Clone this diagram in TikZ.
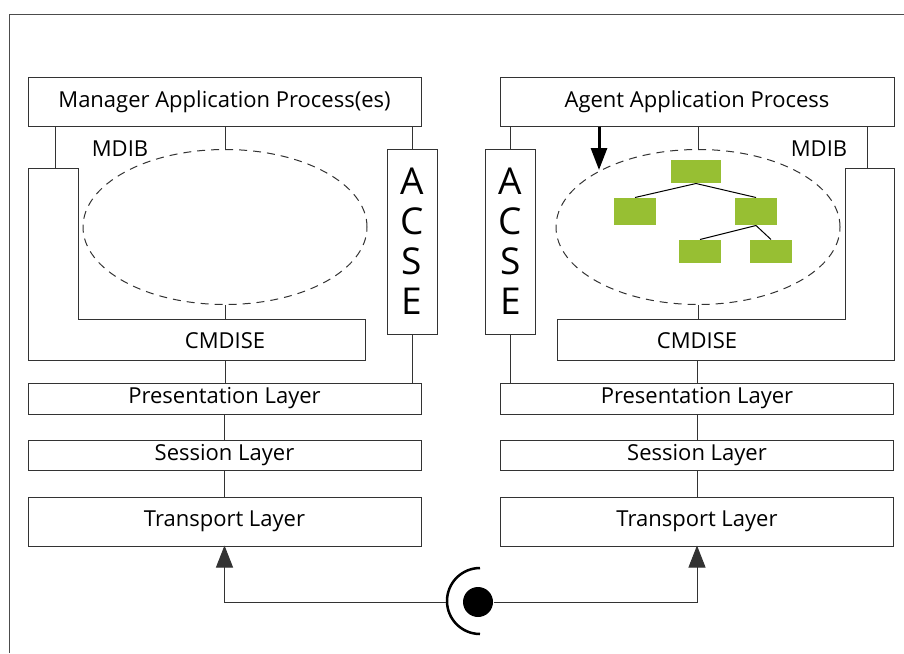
\documentclass[tikz,border=0pt]{standalone}
\usepackage{fontspec}
\setmainfont{Open Sans}
\usetikzlibrary{shapes.geometric,arrows.meta,positioning}
\definecolor{objgreen}{HTML}{97BF33}

\begin{document}
\begin{tikzpicture}[x=1pt,y=-1pt,line width=1pt]
  \tikzstyle{layer}=[draw=black!80,minimum width=393pt,inner sep=0pt,font=\fontsize{22}{26}\selectfont]
  \tikzstyle{acse}=[draw=black!80,minimum width=50pt,minimum height=185pt,inner sep=0pt,align=center,font=\fontsize{37}{40}\selectfont]
  \tikzstyle{mdib}=[ellipse,draw=black!80,dash pattern=on 8pt off 6pt,minimum width=284pt,minimum height=155pt]
  \tikzstyle{obj}=[fill=objgreen,minimum width=50pt,minimum height=23pt,inner sep=0pt]
  \tikzstyle{label}=[font=\fontsize{22}{26}\selectfont,inner sep=0pt]
  \tikzstyle{conn}=[draw=black!80]
  \useasboundingbox (0,0) rectangle (904,653);
  % frame
  \draw[black!70] (904,14) -- (9,14) -- (9,653);

  % both stacks
  \foreach \side/\x in {L/224.5, R/697}{
    \node[layer,minimum height=31pt] (pres\side) at (\x,398.5) {Presentation Layer};
    \node[layer,minimum height=30pt] (sess\side) at (\x,455) {Session Layer};
    \node[layer,minimum height=49pt] (trans\side) at (\x,521.5) {Transport Layer};
    \draw[conn] (pres\side) -- (sess\side);
    \draw[conn] (sess\side) -- (trans\side);
  }
  \node[layer,minimum height=49pt] (mgr) at (224.5,101.5) {Manager Application Process(es)};
  \node[layer,minimum height=49pt,minimum width=394pt] (agent) at (697,101.5) {Agent Application Process};

  % manager side
  \node[mdib] (mdibL) at (225,227) {};
  \node[label] (mdibtxtL) at (120,149) {MDIB};
  \draw[black!80] (28,168) -- (78,168) -- (78,319) -- (365,319) -- (365,360) -- (28,360) -- cycle;
  \node[label] (cmdL) at (225,341) {CMDISE};
  \node[acse] (acseL) at (412,241.5) {A\\C\\S\\E};
  \draw[conn] (mgr.south -| 55,0) -- (55,168);
  \draw[conn] (mgr.south -| mdibL) -- (mdibL.north);
  \draw[conn] (mdibL.south) -- (225,319);
  \draw[conn] (225,360) -- (presL.north -| 225,0);
  \draw[conn] (mgr.south -| acseL) -- (acseL.north);
  \draw[conn] (acseL.south) -- (presL.north -| acseL);

  % agent side
  \node[mdib] (mdibR) at (698,227) {};
  \node[label] (mdibtxtR) at (819,149) {MDIB};
  \draw[black!80] (845,168) -- (894,168) -- (894,360) -- (557,360) -- (557,319) -- (845,319) -- cycle;
  \node[label] (cmdR) at (697,341) {CMDISE};
  \node[acse] (acseR) at (510.5,241.5) {A\\C\\S\\E};
  \draw[conn] (agent.south -| 867,0) -- (867,168);
  \draw[conn] (agent.south -| mdibR) -- (mdibR.north);
  \draw[conn] (mdibR.south) -- (698,319);
  \draw[conn] (697,360) -- (presR.north -| 697,0);
  \draw[conn] (agent.south -| acseR) -- (acseR.north);
  \draw[conn] (acseR.south) -- (presR.north -| acseR);
  \draw[line width=3pt,-{Triangle[length=22pt,width=16pt]}] (agent.south -| 599,0) -- (599,170);

  % object tree
  \node[obj] (root) at (696,171.5) {};
  \node[obj,minimum width=42pt,minimum height=27pt] (objA) at (635,211.5) {};
  \node[obj,minimum width=42pt,minimum height=27pt] (objB) at (756,211.5) {};
  \node[obj,minimum width=42pt] (objC) at (700,251.5) {};
  \node[obj,minimum width=42pt] (objD) at (771,251.5) {};
  \foreach \from/\to in {root/objA,root/objB,objB/objC,objB/objD}
    \draw[black] (\from.south) -- (\to.north);

  % link between the transport layers
  \node[circle,fill=black,minimum size=30pt,inner sep=0pt] (link) at (478,602) {};
  \draw[line width=2.5pt] (480,568) arc (270:90:33);
  \coordinate (linkin) at (446,602);
  \draw[conn,-{Triangle[length=22pt,width=17pt]}] (linkin) -| ([yshift=1pt]transL.south);
  \draw[conn,-{Triangle[length=22pt,width=17pt]}] (link.east) -| ([yshift=1pt]transR.south);
\end{tikzpicture}
\end{document}
